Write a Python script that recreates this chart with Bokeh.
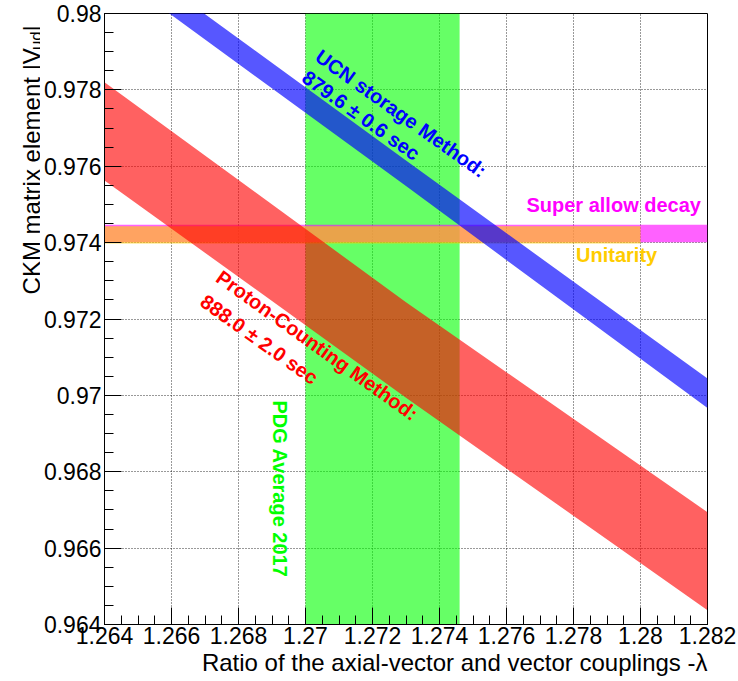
import math
from bokeh.plotting import figure
from bokeh.layouts import row
from bokeh.models import Range1d, FixedTicker, Label, Title
from bokeh.embed import file_html
from bokeh.resources import INLINE

# ---------------- data ----------------
lam_edges = [1.264, 1.273, 1.282]
ucn_upper = [0.98190, 0.97615, 0.97044]
ucn_lower = [0.98124, 0.97548, 0.96967]
pc_upper = [0.97820, 0.97244, 0.96694]
pc_lower = [0.97563, 0.96994, 0.96437]

pdg_lambda = [1.2700, 1.2746]
pdg_vud_span = [0.964, 0.980]

superallowed_lambda = [1.264, 1.282]
superallowed_vud = [0.97401, 0.97447]
unitarity_lambda = [1.264, 1.280]
unitarity_vud = [0.97398, 0.97443]

x_ticks = [1.264, 1.266, 1.268, 1.270, 1.272, 1.274, 1.276, 1.278, 1.280, 1.282]
x_tick_labels = ["1.264", "1.266", "1.268", "1.27", "1.272", "1.274", "1.276", "1.278", "1.28", "1.282"]
y_ticks = [0.964, 0.966, 0.968, 0.970, 0.972, 0.974, 0.976, 0.978, 0.980]
y_tick_labels = ["0.964", "0.966", "0.968", "0.97", "0.972", "0.974", "0.976", "0.978", "0.98"]

x_title = "Ratio of the axial-vector and vector couplings -λ"
y_title_main, y_title_sub, y_title_end = "CKM matrix element |V", "ud", "|"

FONT = "Liberation Sans"
TW = 40  # width of the strip that carries the vertical axis title

# ---------------- strip with the y-axis title ----------------
tfig = figure(width=TW, height=681, x_range=Range1d(0, TW), y_range=Range1d(681, 0),
              output_backend="svg", toolbar_location=None,
              x_axis_type=None, y_axis_type=None,
              min_border_left=0, min_border_right=0, min_border_top=0, min_border_bottom=0)
tfig.outline_line_color = None
tfig.grid.visible = False
tfig.background_fill_color = "white"
tfig.border_fill_color = "white"
for x, y, txt, size in [(31, 13, y_title_end, "24px"),
                        (35.5, 19.7, y_title_sub, "17px"),
                        (31, 38.6, y_title_main, "24px")]:
    tfig.add_layout(Label(x=x, y=y, text=txt, angle=math.pi / 2, text_align="right",
                          text_baseline="alphabetic", text_font=FONT,
                          text_font_size=size, text_color="black"))

# ---------------- main plot ----------------
p = figure(width=738 - TW, height=681,
           x_range=Range1d(1.264, 1.282), y_range=Range1d(0.964, 0.980),
           output_backend="svg", toolbar_location=None,
           min_border_left=103 - TW, min_border_right=31,
           min_border_top=13, min_border_bottom=57)
p.background_fill_color = "white"
p.border_fill_color = "white"
p.outline_line_color = "black"
p.outline_line_width = 1

p.harea(y=pdg_vud_span, x1=[pdg_lambda[0]] * 2, x2=[pdg_lambda[1]] * 2,
        fill_color="#00ff00", fill_alpha=0.6)
p.varea(x=superallowed_lambda, y1=[superallowed_vud[0]] * 2, y2=[superallowed_vud[1]] * 2,
        fill_color="#ff00ff", fill_alpha=0.62)
p.varea(x=unitarity_lambda, y1=[unitarity_vud[0]] * 2, y2=[unitarity_vud[1]] * 2,
        fill_color="#ffcc00", fill_alpha=0.62)
p.varea(x=lam_edges, y1=pc_lower, y2=pc_upper, fill_color="#ff0000", fill_alpha=0.62)
p.varea(x=lam_edges, y1=ucn_lower, y2=ucn_upper, fill_color="#0000ff", fill_alpha=0.66)

minor_x = [1.264 + i * 0.0005 for i in range(37)]
minor_y = [0.964 + i * 0.0005 for i in range(33)]
p.xaxis.ticker = FixedTicker(ticks=x_ticks, minor_ticks=minor_x)
p.yaxis.ticker = FixedTicker(ticks=y_ticks, minor_ticks=minor_y)
p.xaxis.major_label_overrides = dict(zip(x_ticks, x_tick_labels))
p.yaxis.major_label_overrides = dict(zip(y_ticks, y_tick_labels))
for ax in (p.xaxis, p.yaxis):
    ax.major_tick_in = 17
    ax.major_tick_out = 0
    ax.minor_tick_in = 9
    ax.minor_tick_out = 0
    ax.major_tick_line_color = "black"
    ax.minor_tick_line_color = "black"
    ax.axis_line_color = "black"
    ax.major_label_text_font = FONT
    ax.major_label_text_font_size = "23px"
    ax.major_label_text_color = "black"
    ax.axis_label = None
p.xaxis.major_label_standoff = 2
p.yaxis.major_label_standoff = 3

p.grid.grid_line_color = "black"
p.grid.grid_line_dash = "1 2"
p.grid.grid_line_width = 1
p.grid.grid_line_alpha = 0.8

p.add_layout(Title(text=x_title, align="right", standoff=0, text_font=FONT,
                   text_font_size="24px", text_font_style="normal", text_color="black"), "below")

def note(x, y, text, color, angle=0.0, size="20px", align="center"):
    p.add_layout(Label(x=x, y=y, text=text, angle=angle, text_align=align,
                       text_baseline="middle", text_font=FONT, text_font_style="bold",
                       text_font_size=size, text_color=color))

ang = -0.62
note(1.272851, 0.977382, "UCN storage Method:", "#0000ff", ang)
note(1.271659, 0.977329, "879.6 ± 0.6 sec", "#0000ff", ang)
note(1.270348, 0.971307, "Proton-Counting Method:", "#ff0000", ang)
note(1.268619, 0.971464, "888.0 ± 2.0 sec", "#ff0000", ang)
note(1.26923, 0.967549, "PDG Average 2017", "#00ff00", -math.pi / 2)
note(1.279200, 0.974973, "Super allow decay", "#ff00ff")
note(1.279288, 0.973689, "Unitarity", "#ffcc00")

layout = row(tfig, p)
open("out.html", "w").write(file_html(layout, INLINE))
